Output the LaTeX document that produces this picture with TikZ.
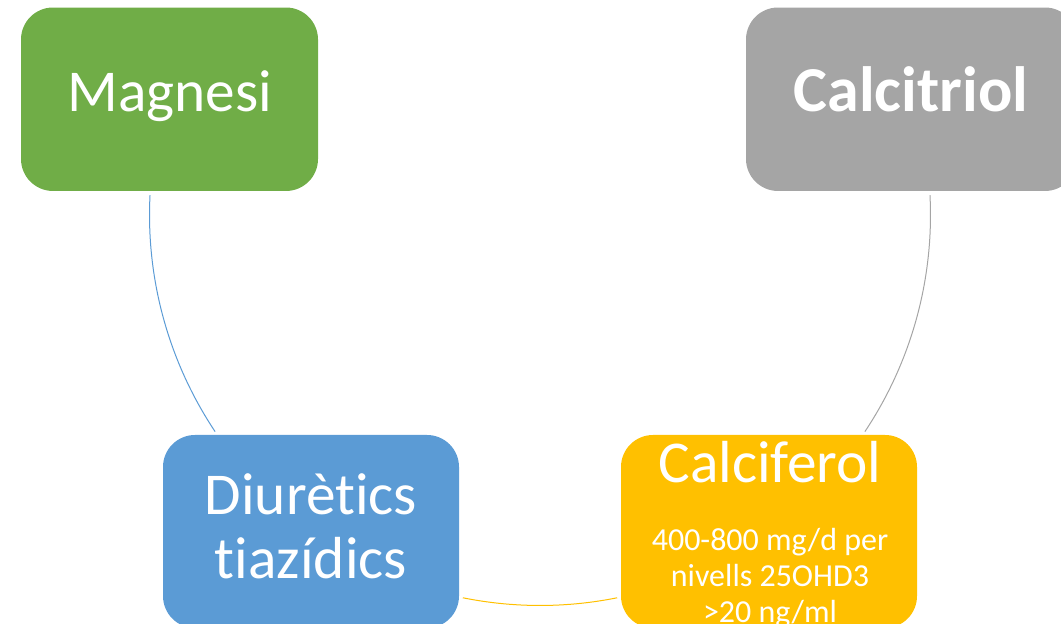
\documentclass[tikz,border=0pt]{standalone}
\usepackage{fontspec}
\setmainfont{Carlito}[Ligatures={NoCommon,NoContextual}]
\usetikzlibrary{calc}
\definecolor{MgGreen}{HTML}{70AD47}
\definecolor{CtGray}{HTML}{A5A5A5}
\definecolor{DtBlue}{HTML}{5B9BD5}
\definecolor{CfGold}{HTML}{FFC000}
\newcommand{\CycR}{390.5}
\tikzset{box/.style={rounded corners=24pt,inner sep=0pt}}
\tikzset{btext/.style={text=white,anchor=base,align=center,inner sep=0pt,font=\fontsize{44.5}{48}\selectfont}}
\tikzset{cyc/.style={line width=0.75pt}}

\begin{document}
\begin{tikzpicture}[x=0.75pt,y=0.75pt]
\clip(0,0)rectangle(1061,624);
\begin{scope}[box]
\node(mag)[fill=MgGreen,minimum width=222.75pt,minimum height=137.6pt]at(169.5,524.75){};
\node(calt)[fill=CtGray,minimum width=248.25pt,minimum height=137.6pt]at(911.5,524.75){};
\node(diu)[fill=DtBlue,minimum width=222pt,minimum height=144.75pt]at(311,92.5){};
\node(calf)[fill=CfGold,minimum width=222pt,minimum height=144.75pt]at(769,92.5){};
\end{scope}
\begin{scope}[btext]
\node(magT)at(170,512){Magnesi};
\node(caltT)[font=\fontsize{48}{52}\selectfont\bfseries]at(911,512){Calcitriol};
\node(diuT)at(311,45){Diurètics\\tiazídics};
\node(calfT)at(770,141){Calciferol};
\node(calfD)[font=\fontsize{24}{27}\selectfont]at(770,1){400-800 mg/d per\\nivells 25OHD3\\>20 ng/ml};
\end{scope}
% cycle arcs
\coordinate(o)at(540,409);
\coordinate(b1)at($(o)+(177.1:\CycR)$);\coordinate(g1)at($(o)+(2.9:\CycR)$);\coordinate(y1)at($(o)+(258.6:\CycR)$);
\draw[cyc,DtBlue](b1)arc[start angle=177.1,end angle=213.7,radius=\CycR];
\draw[cyc,CtGray](g1)arc[start angle=2.9,end angle=-33.7,radius=\CycR];
\draw[cyc,CfGold](y1)arc[start angle=258.6,end angle=281.4,radius=\CycR];
\end{tikzpicture}
\end{document}
